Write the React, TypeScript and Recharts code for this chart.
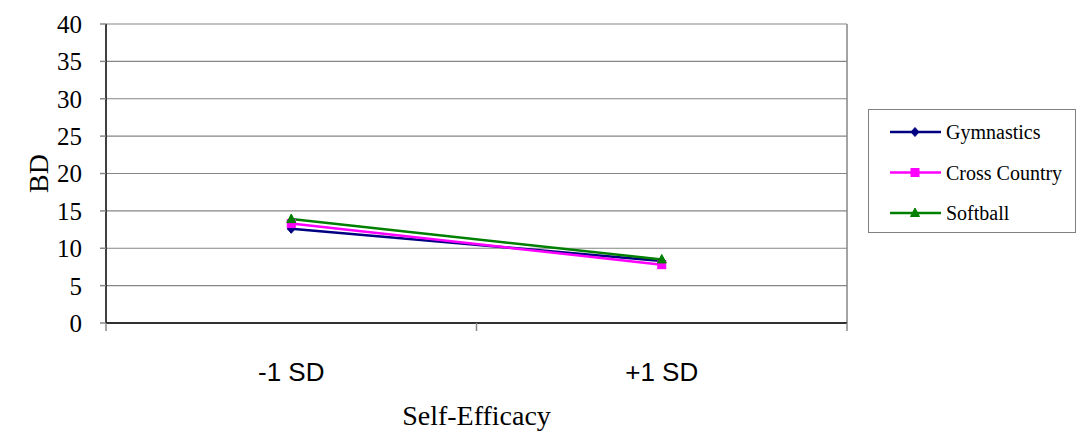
import {
  LineChart,
  Line,
  XAxis,
  YAxis,
  CartesianGrid,
  ReferenceLine,
  Label,
} from "recharts";

const categories = ["-1 SD", "+1 SD"];
const gymnastics = [12.6, 8.3];
const crossCountry = [13.3, 7.8];
const softball = [13.9, 8.5];
const yTicks = [0, 5, 10, 15, 20, 25, 30, 35, 40];

const series = [
  { key: "gymnastics", name: "Gymnastics", color: "#000080", shape: "diamond" },
  { key: "crossCountry", name: "Cross Country", color: "#FF00FF", shape: "square" },
  { key: "softball", name: "Softball", color: "#008000", shape: "triangle" },
];

const data = categories.map((c, i) => ({
  pos: i + 0.5,
  label: c,
  gymnastics: gymnastics[i],
  crossCountry: crossCountry[i],
  softball: softball[i],
}));

// x axis: ticks at band edges, labels at band centres
const xTicks = [0, 0.5, 1, 1.5, 2];

const Marker = ({ cx, cy, shape, color }: { cx: number; cy: number; shape: string; color: string }) => {
  if (shape === "diamond") {
    return <path d={`M${cx},${cy - 4.5}L${cx + 4},${cy}L${cx},${cy + 4.5}L${cx - 4},${cy}Z`} fill={color} stroke={color} />;
  }
  if (shape === "square") {
    return <rect x={cx - 4} y={cy - 4} width={8} height={8} fill={color} stroke={color} />;
  }
  return <path d={`M${cx},${cy - 5}L${cx + 4.5},${cy + 3.5}L${cx - 4.5},${cy + 3.5}Z`} fill={color} stroke={color} />;
};

const XTick = (props: any) => {
  const { x, y, payload } = props;
  const v = payload.value;
  if (Number.isInteger(v)) {
    return <line x1={x} x2={x} y1={y} y2={y + 8} stroke="#888888" strokeWidth={1.5} />;
  }
  const idx = Math.floor(v);
  return (
    <text x={x} y={y + 58} textAnchor="middle" fontFamily="Liberation Sans, Arial, sans-serif" fontSize={26} fill="#000">
      {categories[idx]}
    </text>
  );
};

const LegendBox = () => (
  <div
    style={{
      position: "absolute",
      left: 868,
      top: 109,
      width: 208,
      height: 124,
      border: "1.5px solid #808080",
      boxSizing: "border-box",
      background: "#fff",
    }}
  >
    <svg width={206} height={121} style={{ display: "block" }}>
      {series.map((s, i) => {
        const cy = 22 + i * 40.5;
        return (
          <g key={s.key}>
            <line x1={21} x2={72} y1={cy} y2={cy} stroke={s.color} strokeWidth={2.5} />
            <Marker cx={46} cy={cy} shape={s.shape} color={s.color} />
            <text x={77} y={cy + 7} fontFamily="Liberation Serif, Times New Roman, serif" fontSize={20} fill="#000">
              {s.name}
            </text>
          </g>
        );
      })}
    </svg>
  </div>
);

export default function App() {
  return (
    <div style={{ position: "absolute", left: 0, top: 0, width: 1077, height: 437, background: "#fff" }}>
      <LineChart
        width={1077}
        height={437}
        data={data}
        margin={{ top: 24, right: 230, bottom: 0, left: 0 }}
      >
        <CartesianGrid vertical={false} stroke="#868686" strokeWidth={1.2} />
        <ReferenceLine x={2} stroke="#868686" strokeWidth={1.5} />
        <XAxis
          dataKey="pos"
          type="number"
          domain={[0, 2]}
          ticks={xTicks}
          interval={0}
          height={114}
          tickLine={false}
          tickSize={0}
          tickMargin={0}
          tick={<XTick />}
          axisLine={{ stroke: "#000", strokeWidth: 1.5 }}
        >
          <Label
            content={(p: any) => {
              const vb = p.viewBox;
              return (
                <text
                  x={vb.x + vb.width / 2}
                  y={vb.y + 102}
                  textAnchor="middle"
                  fontFamily="Liberation Serif, Times New Roman, serif"
                  fontSize={28}
                  fill="#000"
                >
                  Self-Efficacy
                </text>
              );
            }}
          />
        </XAxis>
        <YAxis
          domain={[0, 40]}
          ticks={yTicks}
          interval={0}
          width={106}
          tickSize={6}
          tickMargin={18}
          tickLine={{ stroke: "#888888", strokeWidth: 1.5 }}
          axisLine={{ stroke: "#000", strokeWidth: 1.5 }}
          tick={{ fill: "#000", fontSize: 25, fontFamily: "Liberation Serif, Times New Roman, serif" }}
        >
          <Label
            content={(p: any) => {
              const vb = p.viewBox;
              const cx = vb.x + 38;
              const cy = vb.y + vb.height / 2;
              return (
                <text
                  x={cx}
                  y={cy}
                  transform={`rotate(-90, ${cx}, ${cy})`}
                  textAnchor="middle"
                  dominantBaseline="central"
                  fontFamily="Liberation Serif, Times New Roman, serif"
                  fontSize={28}
                  fill="#000"
                >
                  BD
                </text>
              );
            }}
          />
        </YAxis>
        {series.map((s) => (
          <Line
            key={s.key}
            dataKey={s.key}
            name={s.name}
            stroke={s.color}
            strokeWidth={2.5}
            isAnimationActive={false}
            dot={(p: any) => <Marker key={`${s.key}-${p.index}`} cx={p.cx} cy={p.cy} shape={s.shape} color={s.color} />}
            activeDot={false}
          />
        ))}
      </LineChart>
      <LegendBox />
    </div>
  );
}
